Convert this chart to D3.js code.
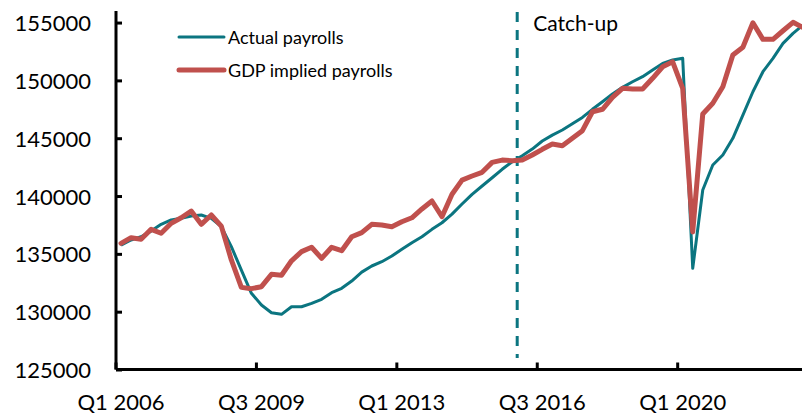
<!DOCTYPE html>
<html>
<head>
<meta charset="utf-8">
<script src="https://cdn.jsdelivr.net/npm/d3@7"></script>
<style>
  body { margin: 0; background: #fff; }
  svg { display: block; font-family: Lato, "Open Sans", sans-serif; }
</style>
</head>
<body>
<svg id="chart" width="802" height="416"></svg>
<script>
// ---- Data (quarterly, Q1 2006 onward, thousands of jobs) ----
const startYear = 2006;
const actualPayrolls = [
  135760, 136200, 136480, 136970, 137550, 137930, 138070, 138270, 138360, 138070,
  137350, 135620, 133600, 131590, 130580, 129910, 129770, 130430, 130430, 130720,
  131070, 131640, 132020, 132650, 133420, 133950, 134320, 134810, 135390, 135960,
  136480, 137120, 137690, 138440, 139310, 140150, 140870, 141580, 142310, 142970,
  143490, 144060, 144760, 145270, 145710, 146250, 146800, 147500, 148150, 148820,
  149400, 149880, 150320, 150900, 151470, 151760, 151910, 133750, 140520, 142680,
  143550, 144990, 147000, 149020, 150750, 151910, 153200, 154070, 154790
];
const gdpImpliedPayrolls = [
  135910, 136400, 136260, 137120, 136780, 137640, 138120, 138700, 137550, 138360,
  137400, 134470, 132100, 131990, 132160, 133230, 133150, 134400, 135190, 135570,
  134610, 135570, 135270, 136480, 136830, 137550, 137490, 137350, 137780, 138120,
  138880, 139570, 138210, 140150, 141380, 141730, 142050, 142910, 143110, 143050,
  143110, 143550, 144040, 144500, 144350, 144990, 145650, 147290, 147500, 148530,
  149310, 149250, 149250, 150180, 151180, 151610, 149310, 136900, 147090, 148020,
  149450, 152190, 152860, 154980, 153550, 153550, 154290, 155020, 154570
];
const yTicks = [125000, 130000, 135000, 140000, 145000, 150000, 155000];
const xTickLabels = ["Q1 2006", "Q3 2009", "Q1 2013", "Q3 2016", "Q1 2020"];
const seriesNames = ["Actual payrolls", "GDP implied payrolls"];
const catchUpQuarter = "Q1 2016";
const catchUpLabel = "Catch-up";

// quarter category labels
const quarters = actualPayrolls.map((d, i) =>
  "Q" + (i % 4 + 1) + " " + (startYear + Math.floor(i / 4)));

const teal = "#0B7580";
const red = "#C0504D";

const svg = d3.select("#chart");
const plotLeft = 116, plotTop = 11, plotBottom = 369.5;
const step = 10.03;

const x = d3.scaleBand()
  .domain(quarters)
  .range([plotLeft, plotLeft + quarters.length * step])
  .paddingInner(0).paddingOuter(0);
const xc = q => x(q) + x.bandwidth() / 2;

const y = d3.scaleLinear().domain([125000, 156000]).range([plotBottom, plotTop]);

// clip region for lines
svg.append("clipPath").attr("id", "plotclip")
  .append("rect").attr("x", plotLeft).attr("y", 0).attr("width", 802 - plotLeft).attr("height", plotBottom);

// catch-up dashed line
svg.append("line")
  .attr("x1", x(catchUpQuarter)).attr("x2", x(catchUpQuarter))
  .attr("y1", 12).attr("y2", 358)
  .attr("stroke", teal).attr("stroke-width", 3)
  .attr("stroke-dasharray", "10,8");

svg.append("text")
  .attr("x", x(catchUpQuarter) + 16).attr("y", 31)
  .attr("font-size", 21).attr("fill", "#000")
  .text(catchUpLabel);

// lines
const line = d3.line().x((d, i) => xc(quarters[i])).y(d => y(d));

const g = svg.append("g").attr("clip-path", "url(#plotclip)");
g.append("path").datum(actualPayrolls)
  .attr("d", line).attr("fill", "none")
  .attr("stroke", teal).attr("stroke-width", 3).attr("stroke-linejoin", "round");
g.append("path").datum(gdpImpliedPayrolls)
  .attr("d", line).attr("fill", "none")
  .attr("stroke", red).attr("stroke-width", 5).attr("stroke-linejoin", "round")
  .attr("stroke-linecap", "round");

// Y axis
const yAxis = d3.axisRight(y).tickValues(yTicks).tickSize(6).tickFormat("");
const ya = svg.append("g").attr("transform", `translate(${plotLeft},0)`).call(yAxis);
ya.select(".domain").attr("d", `M0,${plotTop}V${plotBottom}`).attr("stroke", "#000").attr("stroke-width", 3);
ya.selectAll(".tick line").attr("stroke", "#000").attr("stroke-width", 3);

svg.append("g").selectAll("text").data(yTicks).join("text")
  .attr("x", 91).attr("y", d => y(d))
  .attr("text-anchor", "end").attr("dominant-baseline", "central")
  .attr("font-size", 22).attr("fill", "#000")
  .text(d => d);

// X axis
const tickQuarters = quarters.filter((q, i) => i % 14 === 0);
const xAxis = d3.axisTop(x).tickValues(tickQuarters).tickSize(7).tickFormat("");
const xa = svg.append("g").attr("transform", `translate(0,${plotBottom})`).call(xAxis);
xa.select(".domain").attr("d", `M${plotLeft},0H802`).attr("stroke", "#000").attr("stroke-width", 3);
xa.selectAll(".tick").attr("transform", d => `translate(${x(d)},0)`);
xa.selectAll(".tick line").attr("stroke", "#000").attr("stroke-width", 3);

svg.append("g").selectAll("text").data(xTickLabels).join("text")
  .attr("x", d => xc(d)).attr("y", 410)
  .attr("text-anchor", "middle")
  .attr("font-size", 22).attr("fill", "#000")
  .text(d => d);

// Legend
const legend = svg.append("g");
const legY = [37, 70];
legend.append("line").attr("x1", 179).attr("x2", 224).attr("y1", legY[0]).attr("y2", legY[0])
  .attr("stroke", teal).attr("stroke-width", 3).attr("stroke-linecap", "round");
legend.append("line").attr("x1", 179).attr("x2", 224).attr("y1", legY[1]).attr("y2", legY[1])
  .attr("stroke", red).attr("stroke-width", 5).attr("stroke-linecap", "round");
legend.selectAll("text").data(seriesNames).join("text")
  .attr("x", 228).attr("y", (d, i) => legY[i])
  .attr("dominant-baseline", "central")
  .attr("font-size", 18).attr("fill", "#000")
  .text(d => d);
</script>
</body>
</html>
